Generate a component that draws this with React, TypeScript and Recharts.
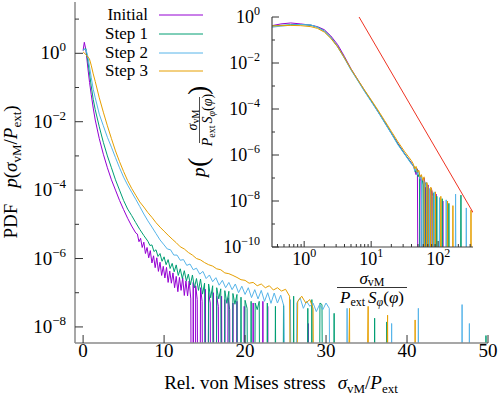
import React from "react";
import { LineChart, Line, XAxis, YAxis, Legend } from "recharts";

type Pt = [number, number];

// main panel: PDF of sigma_vM / P_ext  (0 = empty bin)
const initialMain: Pt[] = [
  [0, 1.2], [0.15, 2.1], [0.35, 1.26], [0.6, 0.35], [0.8, 0.14], [1.0, 0.063], [1.25, 0.025], [1.5, 0.0112],
  [2.0, 3.2e-3], [2.5, 1.12e-3], [3.0, 4.5e-4], [3.5, 2e-4], [4.0, 1e-4], [4.5, 5e-5], [5.0, 2.7e-5], [5.5, 1.5e-5],
  [6.0, 8.9e-6], [6.5, 5.6e-6], [6.7, 5.2e-6], [6.9, 3.1e-6], [7.1, 3.9e-6], [7.3, 2.1e-6], [7.5, 3e-6], [7.7, 1.4e-6],
  [7.9, 2.1e-6], [8.1, 1.05e-6], [8.3, 1.7e-6], [8.5, 7.4e-7], [8.7, 1.2e-6], [8.9, 5.4e-7], [9.1, 1.05e-6], [9.3, 4.2e-7],
  [9.5, 7.8e-7], [9.7, 3.2e-7], [9.9, 5.9e-7], [10.1, 2.7e-7], [10.3, 5.5e-7], [10.5, 2e-7], [10.7, 4.3e-7], [10.9, 1.9e-7],
  [11.1, 3.8e-7], [11.3, 1.4e-7], [11.5, 3e-7], [11.7, 1.07e-7], [11.9, 2.8e-7], [12.1, 1.17e-7], [12.3, 2.75e-7], [12.5, 8.3e-8],
  [12.7, 2.2e-7], [12.9, 8.1e-8], [13.1, 2.2e-7], [13.3, 6.6e-8], [13.5, 0], [13.6, 2e-7], [13.8, 0], [13.9, 1.6e-7],
  [14.1, 6.3e-8], [14.3, 0], [14.5, 1.4e-7], [14.7, 5.6e-8], [14.9, 0], [15.1, 1.26e-7], [15.3, 0], [15.5, 1e-7],
  [15.7, 5e-8], [15.9, 0], [16.1, 1e-7], [16.3, 0], [16.5, 7.9e-8], [16.7, 4e-8], [16.9, 0], [17.1, 7.9e-8],
  [17.3, 0], [17.5, 6.3e-8], [17.7, 0], [17.9, 7.1e-8], [18.1, 3.2e-8], [18.3, 0], [18.5, 5e-8], [18.7, 0],
  [19.0, 5.6e-8], [19.2, 0], [19.7, 0], [19.9, 4e-8], [20.1, 0], [20.8, 0], [21.0, 5e-8], [21.2, 0],
  [22.0, 0], [22.2, 5.6e-8], [22.4, 0], [22.6, 0], [22.8, 4e-8], [23.0, 0], [27.6, 0], [27.8, 1.26e-8], [28.0, 0],
];
const step1Main: Pt[] = [
  [0, 1.26], [0.33, 1.38], [0.6, 0.56], [0.8, 0.25], [1.0, 0.112], [1.25, 0.045], [1.5, 0.0224], [2.0, 7.1e-3],
  [2.5, 2.5e-3], [3.0, 1e-3], [3.5, 4.5e-4], [4.0, 2e-4], [4.5, 1e-4], [5.0, 5e-5], [5.5, 2.8e-5], [6.0, 1.8e-5],
  [6.5, 1.12e-5], [7.0, 7.1e-6], [7.5, 4.7e-6], [8.0, 3.2e-6], [8.25, 2.4e-6], [8.5, 2.5e-6], [8.75, 1.6e-6], [9.0, 1.8e-6],
  [9.25, 1.15e-6], [9.5, 1.4e-6], [9.75, 8.3e-7], [10.0, 1.12e-6], [10.25, 6.6e-7], [10.5, 9.3e-7], [10.75, 5.1e-7], [11.0, 7.2e-7],
  [11.25, 4.1e-7], [11.5, 6.5e-7], [11.75, 3.2e-7], [12.0, 5e-7], [12.25, 2.6e-7], [12.5, 4.4e-7], [12.75, 2.2e-7], [13.0, 3.5e-7],
  [13.25, 1.7e-7], [13.5, 3.3e-7], [13.75, 1.4e-7], [14.0, 2.6e-7], [14.25, 1.17e-7], [14.5, 2.5e-7], [14.75, 9.1e-8], [15.0, 1.9e-7],
  [15.25, 0], [15.5, 1.8e-7], [15.75, 7.1e-8], [16.0, 1.6e-7], [16.25, 0], [16.5, 1.4e-7], [16.75, 6.6e-8], [17.0, 1.3e-7],
  [17.25, 0], [17.5, 1.15e-7], [17.75, 4.9e-8], [18.0, 1.1e-7], [18.25, 0], [18.5, 9.5e-8], [18.75, 4.6e-8], [19.0, 8.9e-8],
  [19.25, 0], [19.5, 7.4e-8], [19.75, 0], [20.0, 6e-8], [20.25, 3.5e-8], [20.5, 0], [20.75, 5.6e-8], [21.0, 0],
  [21.25, 5e-8], [21.5, 3.2e-8], [21.75, 5.6e-8], [22.0, 0], [22.5, 0], [22.75, 5e-8], [23.0, 0], [23.5, 0],
  [23.75, 4e-8], [24.0, 0], [24.5, 0], [24.75, 4.5e-8], [25.0, 0], [25.75, 0], [26.0, 7.9e-8], [26.25, 0],
  [27.5, 0], [27.75, 3.5e-8], [28.0, 0], [28.25, 6.3e-8], [28.5, 0], [29.0, 0], [29.25, 5e-8], [29.5, 4.5e-8],
  [29.75, 0], [30.75, 0], [31.0, 2.5e-8], [31.25, 0], [35.75, 0], [36.0, 1.8e-8], [36.25, 0], [37.25, 0],
  [37.5, 1.4e-8], [37.75, 0], [49.5, 0], [49.75, 5.6e-9], [50, 0],
];
const step2Main: Pt[] = [
  [0, 1.26], [0.35, 1.32], [0.6, 0.79], [0.8, 0.4], [1.0, 0.2], [1.25, 0.089], [1.5, 0.05], [2.0, 0.0166],
  [2.5, 7.6e-3], [3.0, 3.5e-3], [3.5, 1.8e-3], [4.0, 8.9e-4], [4.5, 4.5e-4], [5.0, 2.4e-4], [5.5, 1.4e-4], [6.0, 8.7e-5],
  [6.5, 5.4e-5], [7.0, 3.3e-5], [7.5, 2e-5], [8.0, 1.26e-5], [8.5, 8.3e-6], [9.0, 5.4e-6], [9.5, 3.5e-6], [10.0, 2.5e-6],
  [10.4, 1.9e-6], [10.8, 1.8e-6], [11.2, 1.26e-6], [11.6, 1.26e-6], [12.0, 8.9e-7], [12.4, 9.3e-7], [12.8, 6.3e-7], [13.2, 6.9e-7],
  [13.6, 4.7e-7], [14.0, 5.2e-7], [14.4, 3.5e-7], [14.8, 4.2e-7], [15.2, 2.6e-7], [15.6, 3.3e-7], [16.0, 2.1e-7], [16.4, 2.75e-7],
  [16.8, 1.66e-7], [17.2, 2.3e-7], [17.6, 1.4e-7], [18.0, 2e-7], [18.4, 1.23e-7], [18.8, 1.8e-7], [19.2, 1e-7], [19.6, 1.55e-7],
  [20.0, 8.9e-8], [20.4, 1.4e-7], [20.8, 7.2e-8], [21.2, 1.23e-7], [21.6, 6.6e-8], [22.0, 1.17e-7], [22.4, 5.6e-8], [22.8, 1e-7],
  [23.2, 4.9e-8], [23.6, 9.8e-8], [24.0, 5e-8], [24.4, 8.5e-8], [24.8, 4e-8], [25.2, 0], [25.6, 6.3e-8], [26.0, 0],
  [26.4, 5e-8], [26.8, 7.1e-8], [27.2, 3.5e-8], [27.6, 5.6e-8], [28.0, 4e-8], [28.4, 5e-8], [28.8, 2.8e-8], [29.2, 4.5e-8],
  [29.6, 3.2e-8], [30.0, 5e-8], [30.4, 3.5e-8], [30.7, 0], [32.4, 0], [32.6, 3.5e-8], [32.8, 0], [37.9, 0],
  [38.1, 1.26e-8], [38.3, 0], [41.2, 0], [41.4, 3.5e-8], [41.6, 0], [46.6, 0], [46.8, 4.5e-8], [47.0, 0],
  [47.5, 0], [47.7, 1.26e-8], [47.9, 0],
];
const step3Main: Pt[] = [
  [0, 1.1], [0.4, 0.89], [0.78, 0.69], [1.0, 0.45], [1.25, 0.25], [1.5, 0.15], [2.0, 0.05], [2.5, 0.019],
  [3.0, 7.6e-3], [3.5, 3.2e-3], [4.0, 1.4e-3], [4.5, 6.8e-4], [5.0, 3.5e-4], [5.5, 1.9e-4], [6.0, 1.12e-4], [6.5, 7.1e-5],
  [7.0, 4.5e-5], [7.5, 3.2e-5], [8.0, 2.2e-5], [8.5, 1.6e-5], [9.0, 1.12e-5], [9.5, 8.3e-6], [10.0, 6.3e-6], [10.5, 4.8e-6],
  [11.0, 3.7e-6], [11.5, 2.9e-6], [12.0, 2.2e-6], [12.5, 1.9e-6], [13.0, 1.5e-6], [13.5, 1.26e-6], [14.0, 1e-6], [14.5, 9.1e-7],
  [15.0, 7.6e-7], [15.5, 6.6e-7], [16.0, 6e-7], [16.5, 5e-7], [17.0, 4.7e-7], [17.5, 3.8e-7], [18.0, 3.6e-7], [18.5, 3.2e-7],
  [19.0, 2.8e-7], [19.5, 2.4e-7], [20.0, 2.3e-7], [20.5, 1.9e-7], [21.0, 2e-7], [21.5, 1.6e-7], [22.0, 1.8e-7], [22.5, 1.4e-7],
  [23.0, 1.6e-7], [23.5, 1.2e-7], [24.0, 1.4e-7], [24.5, 1.12e-7], [25.0, 1.26e-7], [25.5, 7.9e-8], [26.0, 0], [26.5, 5.6e-8],
  [27.0, 7.9e-8], [27.5, 5e-8], [28.0, 6.3e-8], [28.4, 3.5e-8], [28.7, 0], [32.1, 0], [32.9, 3.5e-8], [33.1, 0],
  [34.5, 0], [35.2, 4e-8], [35.4, 0], [37.0, 0], [37.6, 2.2e-8], [37.8, 0], [40.8, 0], [41.0, 1.6e-8], [41.2, 0],
];

// inset: rescaled PDF vs sigma_vM / (P_ext S_phi(phi))
const initialInset: Pt[] = [
  [0.33, 0.42], [0.45, 0.5], [0.63, 0.55], [0.89, 0.5], [1.26, 0.44], [1.58, 0.38], [2.0, 0.28], [2.5, 0.15],
  [3.16, 0.063], [4.0, 0.019], [5.0, 5.6e-3], [6.3, 1.9e-3], [7.9, 6.6e-4], [10, 2.3e-4], [12.6, 7.9e-5], [15.8, 2.8e-5],
  [20, 8.9e-6], [25, 3.2e-6], [31.6, 1.12e-6], [40, 4.5e-7], [43.7, 2.8e-7], [46.8, 1.4e-7], [49, 2.5e-7], [51.3, 0],
  [53.7, 1.26e-7], [56.2, 7.1e-8], [58.9, 0], [61.7, 1e-7], [64.6, 4.5e-8], [67.6, 0], [70.8, 5e-8], [74.1, 0],
  [79.4, 3.5e-8], [83.2, 1.6e-8], [87.1, 0], [93.3, 2e-8], [97.7, 0], [112, 0], [117.5, 1e-8], [123, 0],
];
const step1Inset: Pt[] = [
  [0.33, 0.4], [0.45, 0.43], [0.63, 0.46], [0.89, 0.47], [1.26, 0.44], [1.58, 0.36], [2.0, 0.25], [2.5, 0.13],
  [3.16, 0.052], [4.0, 0.0166], [5.0, 5.2e-3], [6.3, 1.8e-3], [7.9, 6.3e-4], [10, 2.24e-4], [12.6, 7.9e-5], [15.8, 2.7e-5],
  [20, 8.9e-6], [25, 3e-6], [31.6, 1.12e-6], [40, 4.2e-7], [43.7, 3.2e-7], [45.7, 1.8e-7], [47.9, 2.5e-7], [50.1, 1.12e-7],
  [52.5, 1.6e-7], [55, 0], [57.5, 8.9e-8], [60.3, 5e-8], [63.1, 0], [66.1, 6.3e-8], [69.2, 3.2e-8], [72.4, 0],
  [75.9, 3.2e-8], [79.4, 0], [85.1, 2.2e-8], [89.1, 0], [95.5, 1.6e-8], [100, 0], [109.6, 0], [114.8, 1.26e-8],
  [120.2, 0], [138, 0], [144.5, 7.9e-9], [151.4, 0], [209, 0], [218.8, 1.8e-8], [229, 0],
];
const step2Inset: Pt[] = [
  [0.33, 0.36], [0.45, 0.4], [0.63, 0.44], [0.89, 0.47], [1.26, 0.45], [1.58, 0.36], [2.0, 0.24], [2.5, 0.126],
  [3.16, 0.05], [4.0, 0.0158], [5.0, 5e-3], [6.3, 1.74e-3], [7.9, 6e-4], [10, 2.1e-4], [12.6, 7.6e-5], [15.8, 2.6e-5],
  [20, 8.5e-6], [25, 2.8e-6], [31.6, 1.07e-6], [40, 4e-7], [42.7, 3.5e-7], [44.7, 2e-7], [46.8, 2.8e-7], [49, 1.4e-7],
  [51.3, 2e-7], [53.7, 8.9e-8], [56.2, 1.26e-7], [58.9, 0], [61.7, 7.1e-8], [64.6, 4e-8], [67.6, 6.3e-8], [70.8, 0],
  [74.1, 3.5e-8], [77.6, 2e-8], [81.3, 0], [87.1, 2.5e-8], [91.2, 0], [100, 0], [104.7, 1.4e-8], [109.6, 0],
  [125.9, 0], [131.8, 1.12e-8], [138, 0], [173.8, 0], [182, 2e-8], [190.5, 0], [251, 0], [263, 5e-9], [275.4, 0],
];
const step3Inset: Pt[] = [
  [0.33, 0.41], [0.45, 0.42], [0.63, 0.43], [0.89, 0.42], [1.26, 0.38], [1.58, 0.32], [2.0, 0.22], [2.5, 0.117],
  [3.16, 0.05], [4.0, 0.0166], [5.0, 5.5e-3], [6.3, 1.9e-3], [7.9, 6.9e-4], [10, 2.5e-4], [12.6, 9.1e-5], [15.8, 3.2e-5],
  [20, 1.07e-5], [25, 3.8e-6], [31.6, 1.4e-6], [40, 5.6e-7], [42.7, 4e-7], [44.7, 2.5e-7], [46.8, 3.2e-7], [49, 1.8e-7],
  [51.3, 2.2e-7], [53.7, 1.12e-7], [56.2, 1.4e-7], [58.9, 7.9e-8], [61.7, 1.12e-7], [64.6, 0], [67.6, 6.3e-8], [70.8, 4e-8],
  [74.1, 0], [77.6, 4e-8], [81.3, 2.5e-8], [85.1, 0], [91.2, 2.5e-8], [95.5, 0], [104.7, 0], [109.6, 1.6e-8],
  [114.8, 0], [131.8, 0], [138, 1e-8], [144.5, 0], [158.5, 0], [166, 6.3e-9], [173.8, 0], [295.1, 0], [309, 4e-9], [323.6, 0],
];
// x^-5 guide line
const guideLine: Pt[] = [[6.6, 1], [333, 3.1e-9]];

const names = ["Initial", "Step 1", "Step 2", "Step 3"];
const colors = ["#9400d3", "#009e73", "#56b4e9", "#e69f00"];
const mainSeries = [initialMain, step1Main, step2Main, step3Main];
const insetSeries = [initialInset, step1Inset, step2Inset, step3Inset];

const mainXTicks = [0, 10, 20, 30, 40, 50];
const mainYTicks = [1e-8, 1e-7, 1e-6, 1e-5, 1e-4, 1e-3, 1e-2, 1e-1, 1, 10];
const insetXTicks = [0.4, 0.5, 0.6, 0.7, 0.8, 0.9, 1, 2, 3, 4, 5, 6, 7, 8, 9, 10, 20, 30, 40, 50, 60, 70, 80, 90, 100, 200, 300];
const insetYTicks = [1e-10, 1e-9, 1e-8, 1e-7, 1e-6, 1e-5, 1e-4, 1e-3, 1e-2, 1e-1, 1];

const FONT = "Liberation Serif";
const serif = { fontFamily: FONT };
const TICK = "#333";
const FRAME = "#8a8a8a";
const EMPTY = 1e-20; // empty bins drop off the log axis
const ROW = 18.8; // legend row pitch

const rows = (pts: Pt[]) => pts.map(([x, y]) => ({ x, y: y > 0 ? y : EMPTY }));
const expOf = (v: number) => Math.round(Math.log10(v));
const isDecade = (v: number) => Math.abs(Math.log10(v) - expOf(v)) < 1e-9;

const Pow10 = ({ x, y, e, anchor, fs = 19 }: any) => (
  <text x={x} y={y} textAnchor={anchor} fontFamily={FONT} style={serif} fontSize={fs} fill="#000">
    10<tspan fontSize={Math.round(fs * 0.68)} dy={-8}>{e < 0 ? "\u2212" + -e : String(e)}</tspan>
  </text>
);

// main panel ticks (pointing inward)
const MainLeftTick = ({ x, y, payload }: any) => {
  const e = expOf(payload.value);
  const major = e % 2 === 0;
  return (
    <g>
      <line x1={x} x2={x + (major ? 8 : 4)} y1={y} y2={y} stroke={TICK} />
      {major && <Pow10 x={x - 9} y={y + 6} e={e} anchor="end" />}
    </g>
  );
};
const MainRightTick = ({ x, y, payload }: any) => {
  const major = expOf(payload.value) % 2 === 0;
  return <line x1={x} x2={x - (major ? 8 : 4)} y1={y} y2={y} stroke={TICK} />;
};
const MainBottomTick = ({ x, y, payload }: any) => (
  <g>
    <line x1={x} x2={x} y1={y} y2={y - 8} stroke={TICK} />
    <text x={x} y={y + 14} textAnchor="middle" fontFamily={FONT} style={serif} fontSize={19} fill="#000">
      {payload.value}
    </text>
  </g>
);
const MainTopTick = ({ x, y }: any) => <line x1={x} x2={x} y1={y} y2={y + 8} stroke={TICK} />;

// inset ticks
const InsetBottomTick = ({ x, y, payload }: any) => {
  const major = isDecade(payload.value);
  return (
    <g>
      <line x1={x} x2={x} y1={y} y2={y - (major ? 6 : 3)} stroke={TICK} />
      {major && <Pow10 x={x} y={y + 18} e={expOf(payload.value)} anchor="middle" fs={18} />}
    </g>
  );
};
const InsetTopTick = ({ x, y, payload }: any) => (
  <line x1={x} x2={x} y1={y} y2={y + (isDecade(payload.value) ? 6 : 3)} stroke={TICK} />
);
const InsetLeftTick = ({ x, y, payload }: any) => {
  const e = expOf(payload.value);
  const major = e % 2 === 0;
  return (
    <g>
      <line x1={x} x2={x + (major ? 7 : 3)} y1={y} y2={y} stroke={TICK} />
      {major && <Pow10 x={x - 12} y={y + 6} e={e} anchor="end" fs={18} />}
    </g>
  );
};
const InsetRightTick = ({ x, y, payload }: any) => {
  const major = expOf(payload.value) % 2 === 0;
  return <line x1={x} x2={x - (major ? 7 : 3)} y1={y} y2={y} stroke={TICK} />;
};

const renderLegend = (props: any) => (
  <svg width={210} height={84}>
    {(props.payload || []).map((item: any, i: number) => (
      <g key={item.value}>
        <text x={148} y={20 + i * ROW} textAnchor="end" fontFamily={FONT} style={serif} fontSize={17} fill="#000">
          {item.value}
        </text>
        <line
          x1={159} x2={203} y1={Math.round(15 + i * ROW)} y2={Math.round(15 + i * ROW)}
          stroke={item.color} strokeWidth={1}
        />
      </g>
    ))}
  </svg>
);

const Sub = ({ children, s = 13, d = 4 }: any) => (
  <tspan fontSize={s} dy={d} fontStyle="normal">
    {children}
  </tspan>
);

export default function App() {
  return (
    <div style={{ position: "absolute", left: 0, top: 0, width: 498, height: 395, background: "#fff" }}>
      <LineChart width={498} height={395} margin={{ top: 2, right: 10, bottom: 0, left: 0 }}>
        <XAxis
          xAxisId="b" type="number" dataKey="x" domain={[-1, 50]} ticks={mainXTicks} allowDataOverflow
          interval={0} height={52} tickSize={0} tickMargin={0} tickLine={false} tick={MainBottomTick}
          axisLine={{ stroke: FRAME, strokeWidth: 1.5 }}
        />
        <XAxis
          xAxisId="t" orientation="top" type="number" dataKey="x" domain={[-1, 50]} ticks={mainXTicks}
          allowDataOverflow interval={0} height={0} tickSize={0} tickMargin={0} tickLine={false} tick={MainTopTick}
          axisLine={{ stroke: FRAME, strokeWidth: 1.5 }}
        />
        <YAxis
          yAxisId="l" type="number" scale="log" domain={[10 ** -8.47, 10 ** 1.5]} ticks={mainYTicks}
          allowDataOverflow interval={0} width={75} tickSize={0} tickMargin={0} tickLine={false} tick={MainLeftTick}
          axisLine={{ stroke: FRAME, strokeWidth: 1.5 }}
        />
        <YAxis
          yAxisId="r" orientation="right" type="number" scale="log" domain={[10 ** -8.47, 10 ** 1.5]}
          ticks={mainYTicks} allowDataOverflow interval={0} width={0} tickSize={0} tickMargin={0} tickLine={false}
          tick={MainRightTick} axisLine={{ stroke: FRAME, strokeWidth: 1.5 }}
        />
        {mainSeries.map((s, i) => (
          <Line
            key={names[i]} xAxisId="b" yAxisId="l" data={rows(s)} dataKey="y" name={names[i]} type="linear"
            stroke={colors[i]} strokeWidth={1} dot={false} activeDot={false} isAnimationActive={false}
          />
        ))}
        <Legend
          content={renderLegend} layout="horizontal" verticalAlign="middle" align="center"
          wrapperStyle={{ left: 0, top: 0, width: 210, height: 84 }}
        />
      </LineChart>

      <div style={{ position: "absolute", left: 180, top: 0 }}>
        <LineChart width={300} height={310} margin={{ top: 17, right: 7, bottom: 0, left: 0 }}>
          <XAxis
            xAxisId="b" type="number" dataKey="x" scale="log" domain={[10 ** -0.48, 10 ** 2.52]} ticks={insetXTicks}
            allowDataOverflow interval={0} height={63} tickSize={0} tickMargin={0} tickLine={false}
            tick={InsetBottomTick} axisLine={{ stroke: "#444", strokeWidth: 1.2 }}
          />
          <XAxis
            xAxisId="t" orientation="top" type="number" dataKey="x" scale="log" domain={[10 ** -0.48, 10 ** 2.52]}
            ticks={insetXTicks} allowDataOverflow interval={0} height={0} tickSize={0} tickMargin={0}
            tickLine={false} tick={InsetTopTick} axisLine={{ stroke: "#444", strokeWidth: 1.2 }}
          />
          <YAxis
            yAxisId="l" type="number" scale="log" domain={[1e-10, 1]} ticks={insetYTicks} allowDataOverflow
            interval={0} width={92} tickSize={0} tickMargin={0} tickLine={false} tick={InsetLeftTick}
            axisLine={{ stroke: "#444", strokeWidth: 1.2 }}
          />
          <YAxis
            yAxisId="r" orientation="right" type="number" scale="log" domain={[1e-10, 1]} ticks={insetYTicks}
            allowDataOverflow interval={0} width={0} tickSize={0} tickMargin={0} tickLine={false}
            tick={InsetRightTick} axisLine={{ stroke: "#444", strokeWidth: 1.2 }}
          />
          {insetSeries.map((s, i) => (
            <Line
              key={names[i]} xAxisId="b" yAxisId="l" data={rows(s)} dataKey="y" name={names[i]} type="linear"
              stroke={colors[i]} strokeWidth={1} dot={false} activeDot={false} isAnimationActive={false}
            />
          ))}
          <Line
            xAxisId="b" yAxisId="l" data={rows(guideLine)} dataKey="y" name="x^-5" type="linear"
            stroke="#ee3322" strokeWidth={1} dot={false} activeDot={false} isAnimationActive={false} legendType="none"
          />
        </LineChart>
      </div>

      <svg width={498} height={395} style={{ position: "absolute", left: 0, top: 0, pointerEvents: "none" }}>
        <g fontFamily={FONT} style={serif} fill="#000">
          <text x={281} y={389} textAnchor="middle" fontSize={19}>
            Rel. von Mises stress
            <tspan dx={12} fontStyle="italic">σ</tspan>
            <Sub>vM</Sub>
            <tspan dy={-4}>/</tspan>
            <tspan fontStyle="italic">P</tspan>
            <Sub>ext</Sub>
          </text>
          <text transform="translate(17,172) rotate(-90)" textAnchor="middle" fontSize={19}>
            PDF
            <tspan dx={16} fontStyle="italic">p</tspan>
            <tspan>(</tspan>
            <tspan fontStyle="italic">σ</tspan>
            <Sub>vM</Sub>
            <tspan dy={-4}>/</tspan>
            <tspan fontStyle="italic">P</tspan>
            <Sub>ext</Sub>
            <tspan dy={-4}>)</tspan>
          </text>

          {/* inset x label */}
          <text x={372} y={284} textAnchor="middle" fontSize={17}>
            <tspan fontStyle="italic">σ</tspan>
            <Sub s={12} d={2}>vM</Sub>
          </text>
          <line x1={337} x2={407} y1={287.5} y2={287.5} stroke="#000" strokeWidth={0.8} />
          <text x={372} y={303} textAnchor="middle" fontSize={17}>
            <tspan fontStyle="italic">P</tspan>
            <Sub s={12} d={3}>ext</Sub>
            <tspan dy={-3} dx={3} fontStyle="italic">S</tspan>
            <Sub s={12} d={3}>
              <tspan fontStyle="italic">φ</tspan>
            </Sub>
            <tspan dy={-3}>(</tspan>
            <tspan fontStyle="italic">φ</tspan>
            <tspan>)</tspan>
          </text>

          {/* inset y label */}
          <g transform="translate(200,128) rotate(-90)">
            <text x={-49} y={5} fontSize={19} fontStyle="italic">p</text>
            <text x={-39} y={7} fontSize={28}>(</text>
            <text x={8} y={-3} textAnchor="middle" fontSize={14}>
              <tspan fontStyle="italic">σ</tspan>
              <Sub s={10} d={2}>vM</Sub>
            </text>
            <line x1={-15} x2={31} y1={-0.5} y2={-0.5} stroke="#000" strokeWidth={0.7} />
            <text x={8} y={12} textAnchor="middle" fontSize={14}>
              <tspan fontStyle="italic">P</tspan>
              <Sub s={10} d={3}>ext</Sub>
              <tspan dy={-3} dx={2} fontStyle="italic">S</tspan>
              <Sub s={10} d={3}>
                <tspan fontStyle="italic">φ</tspan>
              </Sub>
              <tspan dy={-3}>(</tspan>
              <tspan fontStyle="italic">φ</tspan>
              <tspan>)</tspan>
            </text>
            <text x={33} y={7} fontSize={28}>)</text>
          </g>
        </g>
      </svg>
    </div>
  );
}
